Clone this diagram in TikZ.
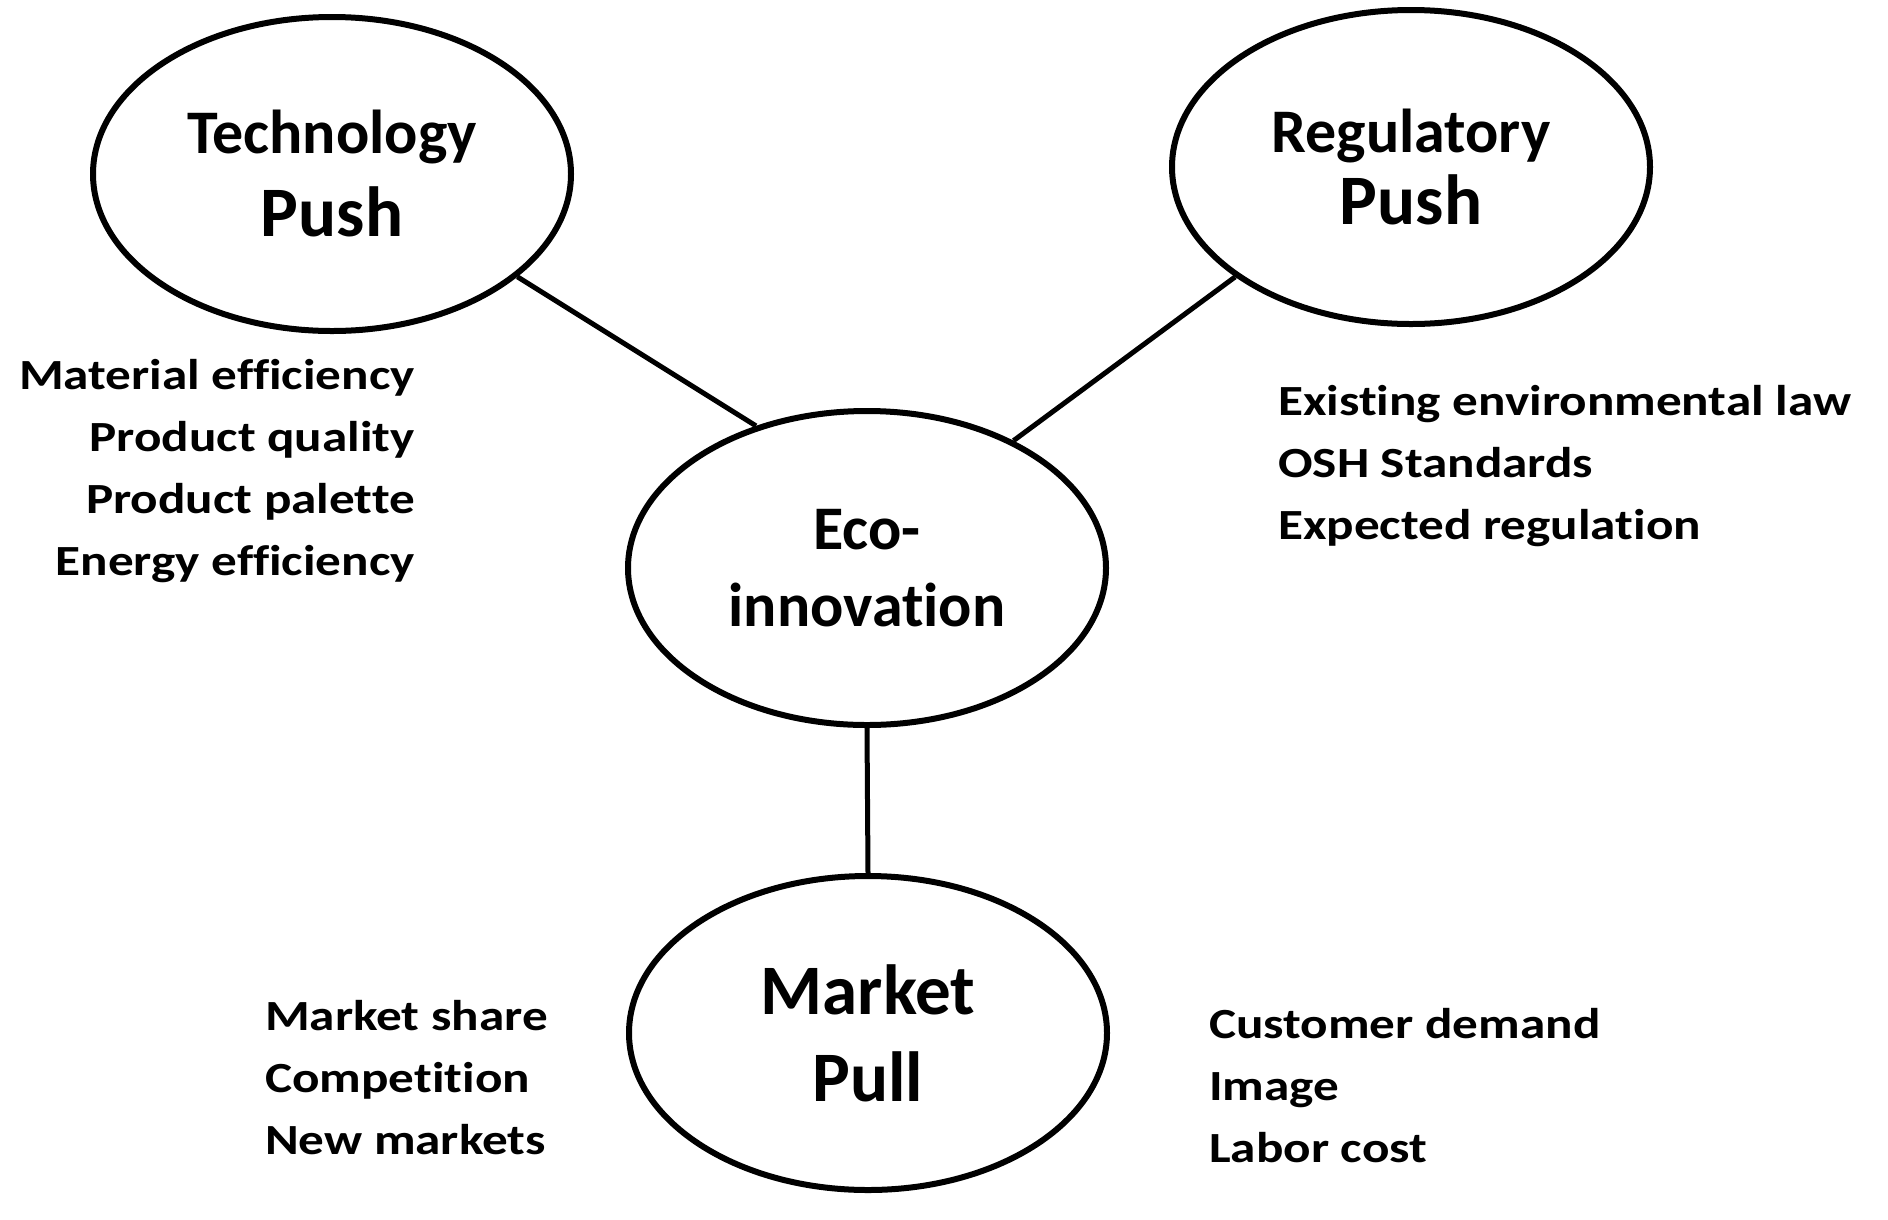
\documentclass[tikz,border=0pt]{standalone}
\usepackage{fontspec}
\setmainfont{Carlito}[Ligatures=NoCommon]
\newfontfamily\widefont{Carlito}[FakeStretch=1.19,Ligatures=NoCommon]
\usepackage{tikz}
\usetikzlibrary{shapes.geometric}
\def\drvfont#1#2{\fontsize{#1}{#2}\selectfont\bfseries}
\def\lnk{\draw[line width=5pt]}
\tikzset{
  driver/.style={draw,ellipse,line width=6pt,minimum width=478pt,minimum height=314pt,inner sep=0pt,align=center},
  factors/.style={inner sep=0pt,font=\widefont\drvfont{43}{62}}
}

\begin{document}
\begin{tikzpicture}[x=1pt,y=-1pt]
                \useasboundingbox (0,0) rectangle (1888,1219);
                \node[driver,font=\drvfont{71}{83}] (tech) at (332,174) {{\drvfont{62}{83}Technology}\\Push};
                \node[driver,font=\drvfont{71}{72}] (reg) at (1411,167) {{\drvfont{62}{72}Regulatory}\\Push};
                \node[driver,font=\drvfont{62}{77}] (eco) at (867,568) {Eco-\\innovation};
                \node[driver,font=\drvfont{71}{87}] (market) at (868,1033) {Market\\Pull};
                \node[factors,align=right,anchor=north east] (techlist) at (415,359) {Material efficiency\\Product quality\\Product palette\\Energy efficiency};
                \node[factors,align=left,anchor=north west] (reglist) at (1278,385) {Existing environmental law\\OSH Standards\\Expected regulation};
                \node[factors,align=left,anchor=north west] (marketleft) at (265,1000) {Market share\\Competition\\New markets};
                \node[factors,align=left,anchor=north west] (marketright) at (1209,1008) {Customer demand\\Image\\Labor cost};
                \lnk (tech.-29) -- (eco.128);
                \lnk (reg.212) -- (eco.41);
                \lnk (eco.south) -- (market.north);
            \end{tikzpicture}
\end{document}
